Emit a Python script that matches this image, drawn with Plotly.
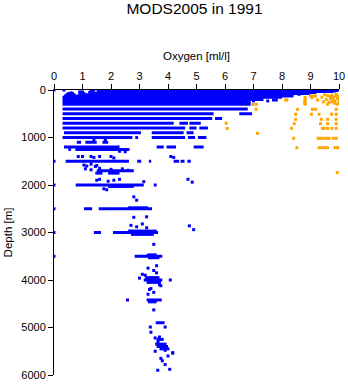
import plotly.graph_objects as go

# ---- Data ----
# Horizontal runs of dense blue observations at standard depths: depth, oxygen start, oxygen end
seg_depth = [0, 10, 20, 20, 30, 30, 50, 50, 75, 75, 75, 100, 100, 125, 150, 200, 250, 300,
             400, 500, 500, 600, 600, 700, 700, 700, 800, 800, 800,
             900, 900, 900, 1000, 1000, 1000, 1000, 1000,
             1100, 1100, 1100, 1200, 1200, 1200, 1200, 1250, 1250,
             1500, 1500, 1500, 1500, 1500, 1500, 1700, 1750, 1750,
             2000, 2000, 2030, 2500, 2500, 2480, 3000, 3000, 2970, 3040, 3500, 3470, 3530,
             3950, 4000, 4050, 4420, 4460, 4900, 5250, 5350, 5400, 5450]
seg_start = [2.0, 2.2, 1.5, 2.0, 1.3, 1.75, 1.2, 1.55, 0.45, 0.9, 1.3, 0.4, 0.85, 0.35, 0.3, 0.3, 0.3, 0.3,
             0.3, 0.3, 6.5, 0.3, 5.65, 0.3, 4.4, 4.75, 0.3, 4.75, 5.1,
             0.35, 3.43, 4.65, 0.3, 2.85, 3.43, 4.7, 5.05,
             0.8, 1.1, 1.7, 0.35, 3.6, 3.95, 4.9, 0.5, 0.75,
             0.41, 2.92, 3.33, 4.2, 4.44, 4.68, 1.5, 1.45, 1.9,
             0.76, 3.5, 1.9, 1.05, 1.57, 2.6, 1.4, 2.07, 2.6, 2.7, 2.83, 3.3, 3.3,
             3.2, 3.15, 3.25, 3.25, 3.3, 3.57, 3.6, 3.55, 3.6, 3.7]
seg_end = [10.0, 9.95, 1.7, 9.9, 1.45, 9.8, 1.4, 9.2, 0.7, 1.1, 9.0, 0.75, 8.4, 8.4, 8.0, 7.35, 6.9, 6.9,
           6.8, 5.6, 6.95, 5.55, 5.9, 4.2, 4.7, 5.15, 4.6, 5.0, 5.4,
           3.05, 4.55, 4.9, 2.75, 2.95, 4.6, 4.95, 5.35,
           0.95, 1.5, 1.9, 2.3, 3.85, 4.28, 5.25, 0.6, 2.65,
           2.63, 3.06, 3.41, 4.39, 4.58, 4.8, 2.8, 1.7, 2.3,
           3.15, 3.6, 2.8, 1.34, 3.44, 3.3, 1.65, 3.65, 3.6, 3.5, 3.8, 3.6, 3.7,
           3.7, 3.8, 3.75, 3.78, 3.6, 3.88, 3.85, 3.95, 4.0, 4.05]

# Isolated blue observations
blue_ox = [0.0, 0.35, 1.3, 1.55, 1.9, 0.0, 0.0, 0.0, 0.0, 0.0,
           7.0, 7.5, 7.7, 7.8, 8.6, 9.6,
           0.85, 1.0, 1.3, 1.4, 1.6, 2.0, 2.1, 4.1, 4.2,
           1.05, 1.15, 1.3, 1.45, 1.5,
           1.1, 1.3, 1.6, 2.0, 2.4, 2.6,
           1.5, 1.6, 1.9, 2.1, 2.3, 3.15, 4.7, 4.85, 1.75, 1.85,
           2.8, 2.9, 2.8, 3.25, 2.7, 2.9, 3.1, 3.25, 4.75, 4.9,
           3.5, 3.3, 3.4, 3.3, 3.5, 3.1, 3.2, 4.08, 3.4, 3.5, 3.3, 2.58, 3.5,
           3.38, 3.9, 3.55, 3.7, 4.16, 3.65, 3.9, 3.75, 3.64, 3.8, 4.06, 4.0, 3.9, 4.17,
           3.6, 3.45, 3.7, 3.75, 3.0, 3.4, 3.35, 3.6, 3.4, 3.55,
           0.6, 0.9, 1.1, 1.25, 0.7, 1.0, 1.7, 2.3, 2.5, 1.4, 1.8]
blue_depth = [0, 0, 0, 0, 0, 1500, 2000, 2500, 3000, 3500,
              230, 230, 210, 210, 90, 30,
              1400, 1400, 1400, 1420, 1400, 1400, 1430, 1400, 1420,
              1580, 1600, 1560, 1610, 1590,
              1660, 1680, 1650, 1670, 1660, 1690,
              1900, 1880, 1920, 1900, 1880, 1930, 1880, 1940, 2080, 2100,
              2250, 2320, 2680, 2670, 2850, 2880, 2820, 2900, 2860, 2940,
              3250, 3480, 3530, 3750, 3800, 3880, 3900, 4000, 4180, 4260, 4300, 4420, 4630,
              4990, 4990, 5220, 5200, 5540, 5300, 5480, 5650, 5900, 5700, 5880, 5600, 5780, 5530,
              3850, 3950, 4100, 4120, 3960, 4440, 4200, 3700, 5100, 5500,
              60, 40, 130, 160, 160, 40, 10, 1290, 1300, 1050, 1060]

# Orange observations (high oxygen)
orange_ox = [6.98, 7.1, 7.09, 7.14, 6.04, 6.08,
             8.13, 8.54, 8.48, 8.48, 8.43, 8.33, 8.41, 8.52,
             8.81, 8.81, 8.81, 8.81,
             9.0, 9.1, 9.18, 9.25, 9.07, 9.18, 9.03, 9.3, 9.38, 9.6, 9.35, 9.6,
             9.42, 9.48, 9.6, 9.75, 9.9,
             9.27, 9.35, 9.45, 9.56, 9.65, 9.8, 9.9,
             9.3, 9.4, 9.5, 9.6, 9.86, 9.93, 9.98,
             9.5, 9.6, 9.55, 9.75, 9.8, 9.9, 9.95, 10.0, 9.75, 9.85, 9.6, 9.95, 9.8, 9.7, 9.9,
             9.4, 9.45, 9.65, 9.85, 10.0, 9.7,
             9.9, 9.74, 9.9, 9.9, 9.9, 9.94, 8.17, 8.8, 9.05]
orange_depth = [300, 300, 407, 912, 700, 810,
                210, 407, 510, 617, 709, 807, 1017, 1214,
                160, 200, 250, 300,
                126, 126, 126, 210, 407, 407, 510, 510, 617, 617, 709, 709,
                807, 807, 807, 807, 807,
                1017, 1017, 1017, 1017, 1017, 1017, 1017,
                1214, 1214, 1214, 1214, 1214, 1214, 1214,
                100, 120, 200, 110, 150, 130, 180, 240, 250, 280, 300, 300, 210, 180, 90,
                150, 250, 260, 230, 130, 140,
                407, 510, 510, 617, 709, 1740, 210, 275, 160]

x_ticks = [0, 1, 2, 3, 4, 5, 6, 7, 8, 9, 10]
y_ticks = [0, 1000, 2000, 3000, 4000, 5000, 6000]

# ---- Build segment polyline with gaps ----
seg_x, seg_y = [], []
for d, a, b in zip(seg_depth, seg_start, seg_end):
    seg_x += [a, b, None]
    seg_y += [d, d, None]

BLUE = "#0000ff"
ORANGE = "#ffa500"
FONT = "Liberation Sans, Arial, sans-serif"

fig = go.Figure()
fig.add_trace(go.Scatter(x=seg_x, y=seg_y, mode="lines",
                         line=dict(color=BLUE, width=3), hoverinfo="skip", showlegend=False))
fig.add_trace(go.Scatter(x=blue_ox, y=blue_depth, mode="markers",
                         marker=dict(color=BLUE, size=3, symbol="square", line=dict(width=0)),
                         showlegend=False))
fig.add_trace(go.Scatter(x=orange_ox, y=orange_depth, mode="markers",
                         marker=dict(color=ORANGE, size=3, symbol="square", line=dict(width=0)),
                         showlegend=False))

fig.update_layout(
    width=348, height=384,
    margin=dict(l=54, r=9, t=90, b=9),
    paper_bgcolor="white", plot_bgcolor="white",
    font=dict(family=FONT, size=11, color="black"),
    title=dict(text="MODS2005 in 1991", x=0.493, xref="paper", y=1 - 9 / 384,
               yref="container", xanchor="center", yanchor="middle",
               font=dict(family=FONT, size=15.5, color="black")),
    xaxis=dict(side="top", range=[0, 10], tickvals=x_ticks, ticks="outside", ticklen=5,
               tickcolor="black", showline=True, linecolor="black", linewidth=1,
               showgrid=False, zeroline=False, automargin=False,
               title=dict(text="Oxygen [ml/l]", standoff=6, font=dict(size=11.5))),
    yaxis=dict(range=[6000, 0], tickvals=y_ticks, ticks="outside", ticklen=5,
               tickcolor="black", showline=True, linecolor="black", linewidth=1,
               showgrid=False, zeroline=False, automargin=False,
               title=dict(text="Depth [m]", standoff=6, font=dict(size=11.5))),
)

fig.write_html("out.html")
